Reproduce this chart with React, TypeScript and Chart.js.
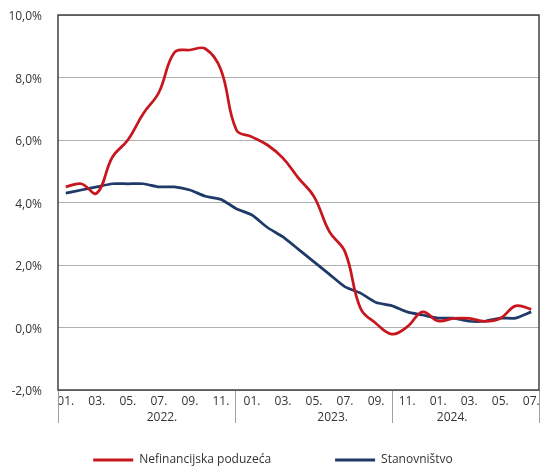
import { useEffect, useRef } from "react";
import { Chart, registerables } from "chart.js";

Chart.register(...registerables);

const categories = [
  "01.2022", "02.2022", "03.2022", "04.2022", "05.2022", "06.2022", "07.2022", "08.2022", "09.2022", "10.2022", "11.2022", "12.2022",
  "01.2023", "02.2023", "03.2023", "04.2023", "05.2023", "06.2023", "07.2023", "08.2023", "09.2023", "10.2023", "11.2023", "12.2023",
  "01.2024", "02.2024", "03.2024", "04.2024", "05.2024", "06.2024", "07.2024",
];

const nefinancijskaPoduzeca = [
  4.5, 4.6, 4.3, 5.45, 6.0, 6.85, 7.52, 8.8, 8.88, 8.92, 8.25, 6.32,
  6.1, 5.84, 5.42, 4.78, 4.19, 3.06, 2.42, 0.61, 0.13, -0.21, 0.02, 0.5,
  0.21, 0.29, 0.29, 0.2, 0.29, 0.69, 0.59,
];

const stanovnistvo = [
  4.3, 4.4, 4.5, 4.6, 4.6, 4.6, 4.5, 4.5, 4.4, 4.2, 4.1, 3.8,
  3.6, 3.2, 2.9, 2.5, 2.1, 1.7, 1.3, 1.1, 0.8, 0.7, 0.5, 0.4,
  0.3, 0.3, 0.2, 0.2, 0.3, 0.3, 0.5,
];

const yearLabels = ["2022.", "2023.", "2024."];

const FONT = '"Open Sans", "Noto Sans", sans-serif';
const RED = "#C8161E";
const BLUE = "#1F3A68";
const TEXT = "#333333";

// layout of the original (fractional category positions)
const separatorAt = [10.9, 21.0];
const yearLabelAt = [6.2, 17.2, 24.9];

const framePlugin = {
  id: "frame",
  afterDatasetsDraw(chart: any) {
    const { ctx, chartArea: a, scales } = chart;
    const x = scales.x;
    const p0 = x.getPixelForValue(0);
    const step = x.getPixelForValue(1) - p0;
    ctx.save();
    // separators under axis
    ctx.strokeStyle = "#a0a0a0";
    ctx.lineWidth = 1;
    const seps = [a.left, ...separatorAt.map((v) => p0 + v * step), a.right];
    seps.forEach((px) => {
      ctx.beginPath();
      ctx.moveTo(Math.round(px) + 0.5, a.bottom);
      ctx.lineTo(Math.round(px) + 0.5, a.bottom + 33);
      ctx.stroke();
    });
    // year labels
    ctx.fillStyle = TEXT;
    ctx.font = `12px ${FONT}`;
    ctx.textAlign = "center";
    ctx.textBaseline = "middle";
    yearLabels.forEach((t, i) => ctx.fillText(t, p0 + yearLabelAt[i] * step, a.bottom + 28));
    // frame
    ctx.strokeStyle = "#404040";
    ctx.lineWidth = 1.5;
    ctx.strokeRect(a.left, a.top, a.right - a.left, a.bottom - a.top);
    // legend
    const ds = chart.data.datasets;
    const lineW = 40, gapT = 6, gapItem = 64;
    const widths = ds.map((d: any) => lineW + gapT + ctx.measureText(d.label).width);
    const total = widths.reduce((s: number, w: number) => s + w, 0) + gapItem * (ds.length - 1);
    let cx = chart.width / 2 + 2 - total / 2;
    const ly = a.bottom + 70;
    ctx.textAlign = "left";
    ds.forEach((d: any, i: number) => {
      ctx.strokeStyle = d.borderColor;
      ctx.lineWidth = 3;
      ctx.beginPath();
      ctx.moveTo(cx, ly);
      ctx.lineTo(cx + lineW, ly);
      ctx.stroke();
      ctx.fillStyle = TEXT;
      ctx.fillText(d.label, cx + lineW + gapT, ly);
      cx += widths[i] + gapItem;
    });
    ctx.restore();
  },
};

export default function App() {
  const ref = useRef<HTMLCanvasElement | null>(null);
  useEffect(() => {
    if (!ref.current) return;
    const chart = new Chart(ref.current, {
      type: "line",
      data: {
        labels: categories,
        datasets: [
          {
            label: "Nefinancijska poduzeća",
            data: nefinancijskaPoduzeca,
            borderColor: RED,
            backgroundColor: RED,
            borderWidth: 2.75,
            pointRadius: 0,
            tension: 0.4,
          },
          {
            label: "Stanovništvo",
            data: stanovnistvo,
            borderColor: BLUE,
            backgroundColor: BLUE,
            borderWidth: 2.75,
            pointRadius: 0,
            tension: 0.2,
          },
        ],
      },
      options: {
        animation: false,
        responsive: false,
        layout: { padding: { top: 15, right: 3, left: 0, bottom: 0 } },
        plugins: {
          legend: { display: false },
          tooltip: { enabled: false },
        },
        scales: {
          x: {
            type: "category",
            offset: true,
            grid: { display: false, drawTicks: false },
            border: { display: false },
            ticks: {
              autoSkip: false,
              maxRotation: 0,
              minRotation: 0,
              padding: 4,
              color: TEXT,
              font: { family: FONT, size: 12 },
              callback: (_v: any, i: number) => (i % 2 === 0 ? categories[i].slice(0, 3) : ""),
            },
            afterFit: (s: any) => {
              s.height = 85;
              s.paddingLeft = 0;
              s.paddingRight = 0;
            },
          },
          y: {
            min: -2,
            max: 10,
            grid: { color: "#b0b0b0", lineWidth: 1, drawTicks: false },
            border: { display: false },
            ticks: {
              stepSize: 2,
              padding: 16,
              labelOffset: 2,
              color: TEXT,
              font: { family: FONT, size: 12 },
              callback: (v: any) => Number(v).toFixed(1).replace(".", ",") + "%",
            },
            afterFit: (s: any) => {
              s.width = 58;
              s.paddingTop = 0;
              s.paddingBottom = 0;
            },
          },
        },
      },
      plugins: [framePlugin],
    });
    return () => chart.destroy();
  }, []);
  return (
    <div style={{ position: "fixed", left: 0, top: 0, width: 542, height: 475, background: "#fff" }}>
      <canvas ref={ref} width={542} height={475} style={{ display: "block" }} />
    </div>
  );
}
